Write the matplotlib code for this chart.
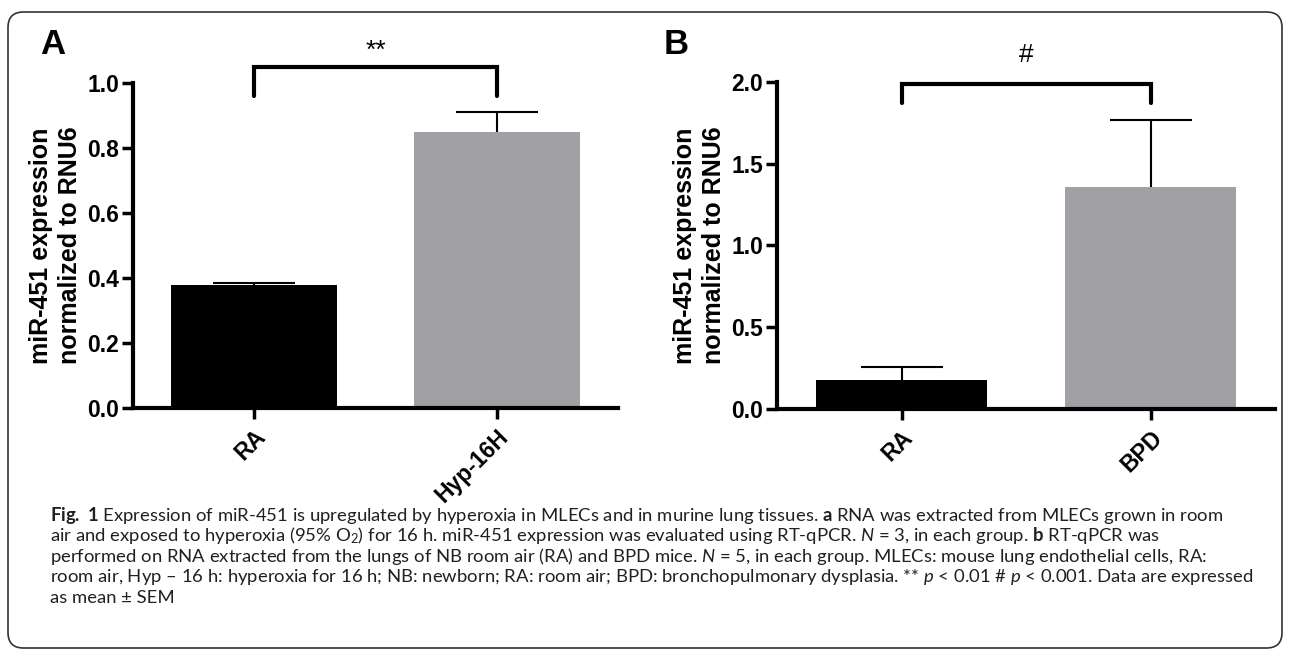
import matplotlib
matplotlib.use("Agg")
import matplotlib.pyplot as plt
from matplotlib.patches import FancyBboxPatch

plt.rcParams['font.family'] = ['Liberation Sans', 'DejaVu Sans']
plt.rcParams['mathtext.fontset'] = 'custom'
plt.rcParams['mathtext.rm'] = 'Lato'
plt.rcParams['mathtext.it'] = 'Lato:italic'
plt.rcParams['mathtext.bf'] = 'Lato:bold'

# panel A: MLECs
groups_a = ['RA', 'Hyp-16H']
mean_a = [0.38, 0.85]
sem_a = [0.005, 0.06]
bracket_a = (0.96, 1.05)
star_a = '**'

# panel B: lung tissue
groups_b = ['RA', 'BPD']
mean_b = [0.18, 1.36]
sem_b = [0.075, 0.41]
bracket_b = (1.87, 1.99)
star_b = '#'

colors = ['#000000', '#a1a0a5']
ylabel = "miR-451 expression\nnormalized to RNU6"

caption = [
    r"$\mathbf{Fig.\ 1}$ Expression of miR-451 is upregulated by hyperoxia in MLECs and in murine lung tissues. $\mathbf{a}$ RNA was extracted from MLECs grown in room",
    r"air and exposed to hyperoxia (95% O$_2$) for 16 h. miR-451 expression was evaluated using RT-qPCR. $N$ = 3, in each group. $\mathbf{b}$ RT-qPCR was",
    r"performed on RNA extracted from the lungs of NB room air (RA) and BPD mice. $N$ = 5, in each group. MLECs: mouse lung endothelial cells, RA:",
    r"room air, Hyp – 16 h: hyperoxia for 16 h; NB: newborn; RA: room air; BPD: bronchopulmonary dysplasia. ** $p$ < 0.01 # $p$ < 0.001. Data are expressed",
    r"as mean ± SEM",
]

W, H = 1290, 655


def draw_panel(ax, groups, means, sems, ymax, yticks, bracket):
    x = list(range(len(groups)))
    tops = [m + s for m, s in zip(means, sems)]
    ax.bar(x, means, width=0.685, color=colors, zorder=2)
    # upper error bars only, like Prism
    ax.vlines(x, means, tops, color='black', lw=1.5, zorder=3)
    ax.plot(x, tops, ls='none', marker='_', ms=59, mew=1.5, color='black', zorder=3)
    ax.set_xlim(-0.5, 1.5)
    ax.set_ylim(0, ymax)
    ax.set_yticks(yticks)
    ax.set_yticklabels(['%.1f' % t for t in yticks], fontsize=16.5, fontweight='bold')
    ax.set_xticks(x)
    ax.set_xticklabels(groups, fontsize=16.5, fontweight='bold', rotation=45,
                       ha='right', rotation_mode='anchor')
    for side in ['top', 'right']:
        ax.spines[side].set_visible(False)
    for side in ['left', 'bottom']:
        ax.spines[side].set_linewidth(3)
    ax.tick_params(axis='both', length=8, width=2.5, pad=2)
    ax.tick_params(axis='x', pad=4)
    ax.set_ylabel(ylabel, fontsize=18, fontweight='bold', labelpad=4, linespacing=1.25)
    lo, hi = bracket
    ax.plot([x[0], x[0], x[1], x[1]], [lo, hi, hi, lo], color='black', lw=3,
            clip_on=False, solid_capstyle='round', solid_joinstyle='miter')
    return ax


fig = plt.figure(figsize=(W / 100, H / 100), dpi=100)

ax_a = fig.add_axes([133 / W, 1 - 408 / H, 485 / W, 325 / H])
draw_panel(ax_a, groups_a, mean_a, sem_a, 1.0, [0.0, 0.2, 0.4, 0.6, 0.8, 1.0], bracket_a)
ax_a.text(0.5, 1.10, star_a, fontsize=19, ha='center', va='center')

ax_b = fig.add_axes([777 / W, 1 - 409 / H, 498 / W, 327 / H])
draw_panel(ax_b, groups_b, mean_b, sem_b, 2.0, [0.0, 0.5, 1.0, 1.5, 2.0], bracket_b)
ax_b.text(0.5, 2.165, star_b, fontsize=19, ha='center', va='center')

fig.text(53 / W, 1 - 44 / H, 'A', fontsize=25, fontweight='bold', ha='center', va='center')
fig.text(676 / W, 1 - 45 / H, 'B', fontsize=25, fontweight='bold', ha='center', va='center')

for i, line in enumerate(caption):
    fig.text(50 / W, 1 - (515 + 20.75 * i) / H, line, fontsize=13.3, color='#231f20',
             family='Lato', ha='left', va='center')

frame = FancyBboxPatch((8 / W, 7 / H), 1274 / W, 636 / H,
                       boxstyle='round,pad=0,rounding_size=0.012',
                       transform=fig.transFigure, fill=False, lw=1.2, ec='#333333',
                       mutation_aspect=W / H)
fig.add_artist(frame)

fig.savefig('out.png', dpi=100)
